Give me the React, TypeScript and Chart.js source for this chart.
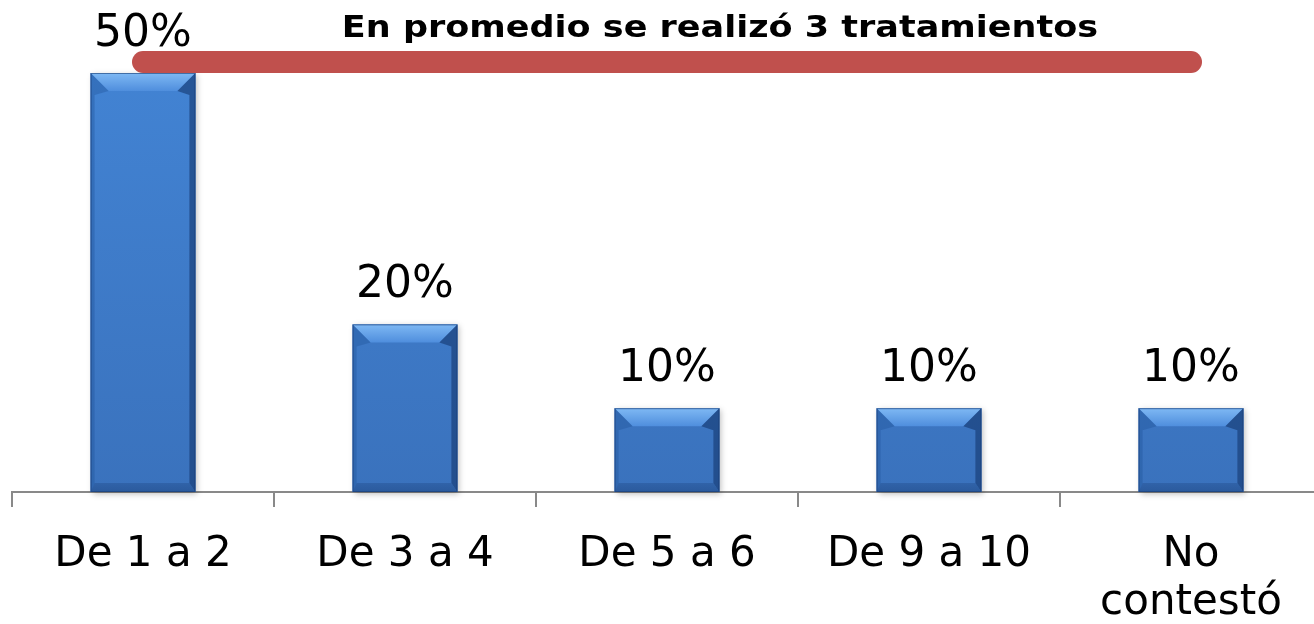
import React, { useEffect, useRef } from "react";
import { Chart, registerables } from "chart.js";

Chart.register(...registerables);

const categories: string[][] = [["De 1 a 2"], ["De 3 a 4"], ["De 5 a 6"], ["De 9 a 10"], ["No", "contestó"]];
const values: number[] = [50, 20, 10, 10, 10];
const titleText = "En promedio se realizó 3 tratamientos";
const yMax = 50;

const FONT = "'DejaVu Sans', Verdana, sans-serif";

const bevelPlugin = {
  id: "bevel",
  beforeDatasetsDraw(chart: any) {
    const ctx = chart.ctx;
    const meta = chart.getDatasetMeta(0);
    ctx.save();
    meta.data.forEach((el: any) => {
      const { x, y, base, width } = el.getProps(["x", "y", "base", "width"], true);
      ctx.shadowColor = "rgba(0,0,0,0.25)";
      ctx.shadowBlur = 6;
      ctx.shadowOffsetX = 2;
      ctx.shadowOffsetY = 2;
      ctx.fillStyle = "#3a72bd";
      ctx.fillRect(x - width / 2, y, width, base - y);
    });
    ctx.restore();
  },
  afterDatasetsDraw(chart: any) {
    const ctx = chart.ctx;
    const meta = chart.getDatasetMeta(0);
    meta.data.forEach((el: any) => {
      const { x, y, base, width } = el.getProps(["x", "y", "base", "width"], true);
      const l = x - width / 2;
      const r = x + width / 2;
      const t = y;
      const bot = base;
      const bt = 18;
      const bl = 4;
      const br = 6;
      const bb = 9;
      ctx.save();
      const gt = ctx.createLinearGradient(0, t, 0, t + bt);
      gt.addColorStop(0, "#7fb9f4");
      gt.addColorStop(1, "#4f8edd");
      ctx.fillStyle = gt;
      ctx.beginPath();
      ctx.moveTo(l, t);
      ctx.lineTo(r, t);
      ctx.lineTo(r - bt, t + bt);
      ctx.lineTo(l + bt, t + bt);
      ctx.closePath();
      ctx.fill();
      ctx.fillStyle = "rgba(30,80,150,0.35)";
      ctx.beginPath();
      ctx.moveTo(l, t);
      ctx.lineTo(l + bt, t + bt);
      ctx.lineTo(l + bl, t + bt + 4);
      ctx.lineTo(l + bl, bot - bb);
      ctx.lineTo(l, bot);
      ctx.closePath();
      ctx.fill();
      ctx.fillStyle = "rgba(20,55,110,0.6)";
      ctx.beginPath();
      ctx.moveTo(r, t);
      ctx.lineTo(r, bot);
      ctx.lineTo(r - br, bot - bb);
      ctx.lineTo(r - br, t + bt + 4);
      ctx.lineTo(r - bt, t + bt);
      ctx.closePath();
      ctx.fill();
      const gb = ctx.createLinearGradient(0, bot - bb, 0, bot);
      gb.addColorStop(0, "rgba(30,70,130,0.35)");
      gb.addColorStop(1, "rgba(30,70,130,0.55)");
      ctx.fillStyle = gb;
      ctx.beginPath();
      ctx.moveTo(l, bot);
      ctx.lineTo(l + bl, bot - bb);
      ctx.lineTo(r - br, bot - bb);
      ctx.lineTo(r, bot);
      ctx.closePath();
      ctx.fill();
      ctx.strokeStyle = "rgba(25,60,115,0.6)";
      ctx.lineWidth = 1;
      ctx.strokeRect(l + 0.5, t + 0.5, width - 1, bot - t - 1);
      ctx.restore();
    });
  },
};

const labelPlugin = {
  id: "valueLabels",
  afterDatasetsDraw(chart: any) {
    const ctx = chart.ctx;
    const meta = chart.getDatasetMeta(0);
    ctx.save();
    ctx.font = `44px ${FONT}`;
    ctx.fillStyle = "#000";
    ctx.textAlign = "center";
    ctx.textBaseline = "alphabetic";
    meta.data.forEach((el: any, i: number) => {
      ctx.fillText(values[i] + "%", el.x, el.y - 27);
    });
    ctx.restore();
  },
};

const bannerPlugin = {
  id: "banner",
  afterDraw(chart: any) {
    const ctx = chart.ctx;
    const xs = chart.scales.x;
    const top = chart.chartArea.top;
    ctx.save();
    ctx.strokeStyle = "#c0504d";
    ctx.lineWidth = 22;
    ctx.lineCap = "round";
    ctx.beginPath();
    ctx.moveTo(xs.getPixelForValue(0), top - 11);
    ctx.lineTo(xs.getPixelForValue(categories.length - 1), top - 11);
    ctx.stroke();
    ctx.font = `bold 30px ${FONT}`;
    ctx.fillStyle = "#000";
    ctx.textAlign = "center";
    ctx.textBaseline = "alphabetic";
    ctx.translate(720, 37);
    ctx.scale(1.167, 1);
    ctx.fillText(titleText, 0, 0);
    ctx.restore();
  },
};

export default function App() {
  const ref = useRef<HTMLCanvasElement | null>(null);
  useEffect(() => {
    document.body.style.margin = "0";
    document.body.style.overflow = "hidden";
    const canvas = ref.current!;
    const chart = new Chart(canvas, {
      type: "bar",
      data: {
        labels: categories as any,
        datasets: [
          {
            data: values,
            backgroundColor: (c: any) => {
              const area = c.chart.chartArea;
              if (!area) return "#3f7fcf";
              const g = c.chart.ctx.createLinearGradient(0, area.top, 0, area.bottom);
              g.addColorStop(0, "#4283d3");
              g.addColorStop(1, "#3a72bd");
              return g;
            },
            borderWidth: 0,
            barPercentage: 0.4,
            categoryPercentage: 1,
          },
        ],
      },
      options: {
        responsive: false,
        animation: false,
        layout: { padding: { top: 73, left: 12, right: 8, bottom: 0 } },
        plugins: { legend: { display: false }, title: { display: false }, tooltip: { enabled: false } },
        scales: {
          x: {
            grid: {
              offset: true,
              drawOnChartArea: false,
              drawTicks: true,
              tickLength: 15,
              color: "#898989",
              lineWidth: 2,
            },
            border: { display: true, color: "#898989", width: 2 },
            ticks: {
              font: { family: FONT, size: 42, lineHeight: 1.15 },
              color: "#000",
              padding: 24,
              maxRotation: 0,
              autoSkip: false,
            },
            afterFit: (s: any) => {
              s.height = 132;
            },
          },
          y: {
            display: false,
            min: 0,
            max: yMax,
          },
        },
      },
      plugins: [bevelPlugin, labelPlugin, bannerPlugin],
    });
    return () => chart.destroy();
  }, []);
  return (
    <div style={{ width: 1314, height: 624, overflow: "hidden", background: "#fff" }}>
      <canvas ref={ref} width={1330} height={624} style={{ display: "block" }} />
    </div>
  );
}
